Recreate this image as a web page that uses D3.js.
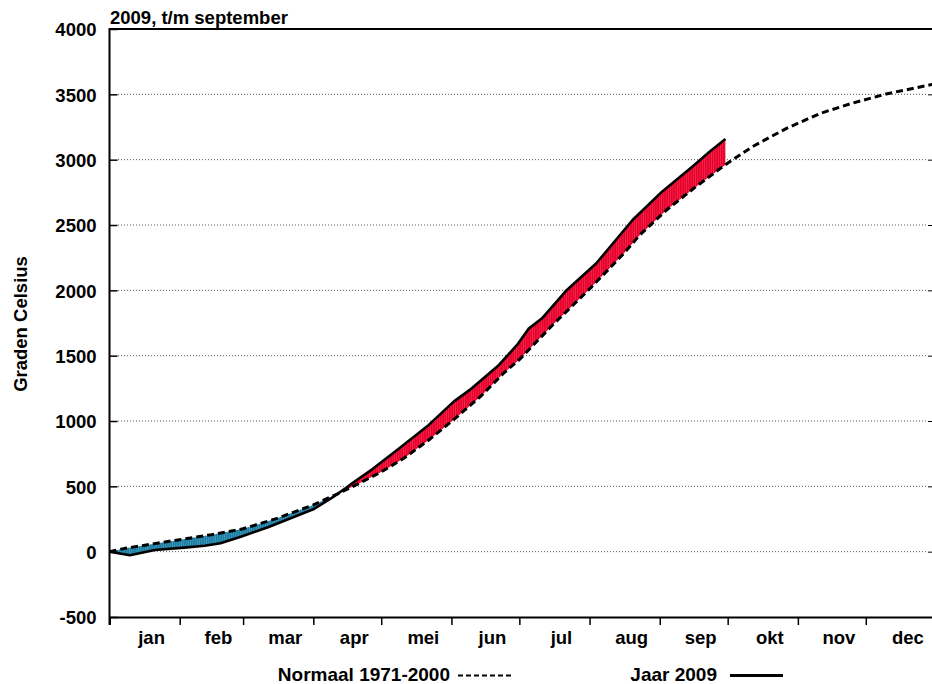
<!DOCTYPE html>
<html>
<head>
<meta charset="utf-8">
<script src="https://cdn.jsdelivr.net/npm/d3@7"></script>
<style>
html,body{margin:0;padding:0;background:#fff;}
svg{display:block;}
text{font-family:"Liberation Sans",Arial,Helvetica,sans-serif;font-weight:bold;fill:#000;}
</style>
</head>
<body>
<svg id="chart" width="932" height="684"></svg>
<script>
// ---- data (day of year, cumulative degrees) ----
const monthLabels = ["jan","feb","mar","apr","mei","jun","jul","aug","sep","okt","nov","dec"];
const monthStarts = [0,31,59,90,120,151,181,212,243,273,304,334,365];
const yTicks = [-500,0,500,1000,1500,2000,2500,3000,3500,4000];
const gridValues = [0,500,1000,1500,2000,2500,3000,3500];

const normalDays   = [0,7,15,31,45,59,74,90,101,110,120,130,141,152,164,174,181,196,212,217,227,234,246,258,272,284,299,314,328,343,362,365];
const normalValues = [0,26,48,92,130,175,255,358,445,520,610,715,855,1010,1190,1365,1470,1740,2010,2100,2280,2420,2615,2780,2962,3100,3240,3355,3432,3503,3571,3580];

const year2009Days   = [0,9,20,33,42,49,58,70,80,90,98,104,107,116,128,141,152,160,172,180,185,191,202,215,231,244,252,258,265,272];
const year2009Values = [0,-28,13,31,45,64,115,187,256,324,409,482,522,630,791,970,1148,1250,1429,1582,1705,1786,2003,2207,2538,2755,2870,2955,3060,3158];

const titleText = "2009, t/m september";
const yTitle = "Graden Celsius";
const legendNormal = "Normaal 1971-2000";
const legendYear = "Jaar 2009";

// ---- layout ----
const pLeft = 109.5, pRight = 936, pTop = 29, pBottom = 617;
const svg = d3.select("#chart");
const x = d3.scaleLinear().domain([0,365]).range([pLeft,pRight]);
const y = d3.scaleLinear().domain([-500,4000]).range([pBottom,pTop]);

const normal = normalDays.map((d,i)=>[d,normalValues[i]]);
const actual = year2009Days.map((d,i)=>[d,year2009Values[i]]);
const line = d3.line().x(d=>x(d[0])).y(d=>y(d[1]));

const defs = svg.append("defs");
const dayW = x(1)-x(0);
function stripePattern(id, base, stripe, sw){
  const p = defs.append("pattern").attr("id",id).attr("patternUnits","userSpaceOnUse")
    .attr("width",dayW).attr("height",10);
  p.append("rect").attr("width",dayW).attr("height",10).attr("fill",base);
  p.append("rect").attr("x",0).attr("width",sw).attr("height",10).attr("fill",stripe);
}
stripePattern("redStripe","#e8002b","#f0405e",0.5);
stripePattern("blueStripe","#1b7ea2","#4f9fc0",0.6);

// clip regions built from the actual curve
const aFirst = actual[0], aLast = actual[actual.length-1];
defs.append("clipPath").attr("id","belowActual").append("path")
  .attr("d", line(actual) + `L${x(aLast[0])},${pBottom+50}L${x(aFirst[0])},${pBottom+50}Z`);
defs.append("clipPath").attr("id","aboveActual").append("path")
  .attr("d", line(actual) + `L${x(aLast[0])},${pTop-50}L${x(aFirst[0])},${pTop-50}Z`);
const nFirst = normal[0], nLast = normal[normal.length-1];
const aboveNormal = line(normal) + `L${x(nLast[0])},${pTop-50}L${x(nFirst[0])},${pTop-50}Z`;
const belowNormal = line(normal) + `L${x(nLast[0])},${pBottom+50}L${x(nFirst[0])},${pBottom+50}Z`;

// gridlines
svg.append("g").selectAll("line").data(gridValues).join("line")
  .attr("x1",118).attr("x2",928).attr("y1",d=>y(d)).attr("y2",d=>y(d))
  .attr("stroke","#555").attr("stroke-width",1).attr("stroke-dasharray","1,2");

// fills
svg.append("g").attr("clip-path","url(#belowActual)")
  .append("path").attr("d",aboveNormal).attr("fill","url(#redStripe)");
svg.append("g").attr("clip-path","url(#aboveActual)")
  .append("path").attr("d",belowNormal).attr("fill","url(#blueStripe)");

// lines
svg.append("path").attr("d",line(normal)).attr("fill","none").attr("stroke","#000")
  .attr("stroke-width",3).attr("stroke-dasharray","7,4");
svg.append("path").attr("d",line(actual)).attr("fill","none").attr("stroke","#000")
  .attr("stroke-width",2.6).attr("stroke-linejoin","round");

// axes
const fontSize = 18.5;
const gx = svg.append("g").attr("transform",`translate(0,${pBottom})`)
  .call(d3.axisBottom(x).tickValues(monthStarts).tickSize(8).tickFormat(""));
gx.select(".domain").attr("stroke-width",2);
gx.selectAll(".tick line").attr("stroke-width",1.5);

const gy = svg.append("g").attr("transform",`translate(${pLeft},0)`)
  .call(d3.axisLeft(y).tickValues(yTicks).tickSizeInner(-8).tickSizeOuter(0).tickPadding(13)
    .tickFormat(d=>String(d)));
gy.select(".domain").remove();
gy.selectAll(".tick line").attr("stroke-width",1.5);
gy.selectAll(".tick text").attr("font-size",fontSize).attr("dy","0.36em")
  .attr("font-family","Liberation Sans, Arial, sans-serif").attr("font-weight","bold");
svg.append("line").attr("x1",pLeft).attr("x2",pLeft).attr("y1",pTop-1).attr("y2",pBottom+8)
  .attr("stroke","#000").attr("stroke-width",2);

const gr = svg.append("g").attr("transform",`translate(${pRight},0)`)
  .call(d3.axisRight(y).tickValues(yTicks).tickSizeInner(-8).tickSizeOuter(0).tickFormat(""));
gr.select(".domain").attr("stroke-width",2);

svg.append("line").attr("x1",pLeft).attr("x2",pRight).attr("y1",pTop).attr("y2",pTop)
  .attr("stroke","#000").attr("stroke-width",2);

// month labels
svg.append("g").selectAll("text").data(monthLabels).join("text")
  .attr("x",(d,i)=>(x(monthStarts[i])+x(monthStarts[i+1]))/2+7)
  .attr("y",643.5).attr("text-anchor","middle").attr("font-size",fontSize).text(d=>d);

// title
svg.append("text").attr("x",110).attr("y",24).attr("font-size",fontSize).text(titleText);

// y title
svg.append("text").attr("transform","translate(27,324) rotate(-90)")
  .attr("text-anchor","middle").attr("font-size",fontSize).text(yTitle);

// legend
svg.append("text").attr("x",450).attr("y",681).attr("text-anchor","end").attr("font-size",19).text(legendNormal);
svg.append("line").attr("x1",458).attr("x2",512).attr("y1",675.5).attr("y2",675.5)
  .attr("stroke","#000").attr("stroke-width",2).attr("stroke-dasharray","5,3");
svg.append("text").attr("x",717).attr("y",681).attr("text-anchor","end").attr("font-size",19).text(legendYear);
svg.append("line").attr("x1",730).attr("x2",783).attr("y1",675.5).attr("y2",675.5)
  .attr("stroke","#000").attr("stroke-width",3);
</script>
</body>
</html>
